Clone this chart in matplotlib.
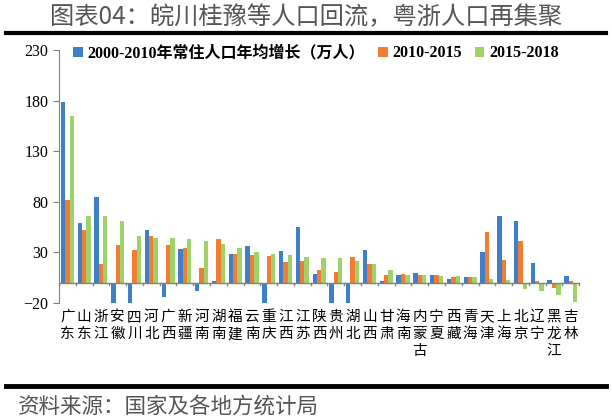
import numpy as np
import matplotlib
matplotlib.use("Agg")
from matplotlib import pyplot as plt

plt.rcParams['font.family'] = ['Liberation Serif', 'Noto Sans CJK SC', 'DejaVu Sans']

provinces = ["广东", "山东", "浙江", "安徽", "四川", "河北", "广西", "新疆", "河南", "湖南",
             "福建", "云南", "重庆", "江西", "江苏", "陕西", "贵州", "湖北", "山西", "甘肃",
             "海南", "内蒙古", "宁夏", "西藏", "青海", "天津", "上海", "北京", "辽宁", "黑龙江", "吉林"]
growth_2000_2010 = [179, 58.5, 84.5, -30, -40, 52, -13.8, 33, -8, 1.6,
                    28, 36, -25, 31, 55, 8.5, -30, -25, 32, 1.6,
                    7.5, 9.5, 7.5, 3.6, 5.6, 30, 65.8, 61, 19.4, 2.6, 6.6]
growth_2010_2015 = [81.6, 52, 18.4, 37, 32, 46, 37, 34, 14.5, 43,
                    28, 27, 26, 20, 21, 12.5, 10, 25, 18.4, 7.5,
                    8.5, 7.5, 7.5, 5.6, 5.6, 50, 22.4, 41.4, 1.6, -5, 1.6]
growth_2015_2018 = [165, 65.8, 65.8, 61, 46, 44, 44, 43, 41, 38,
                    34, 30, 28, 27, 25, 24, 24, 21, 18.4, 12.5,
                    7.5, 7.5, 6.6, 6.6, 5.6, 3.6, 2.6, -6, -8, -12, -19]
series_names = ["2000-2010年常住人口年均增长（万人）", "2010-2015", "2015-2018"]
y_ticks = [-20, 30, 80, 130, 180, 230]

colors = ["#3f7fc6", "#f07d32", "#9fd36a"]

fig = plt.figure(figsize=(6.12, 4.2), dpi=100)
ax = fig.add_axes([0.0964, 0.279, 0.85, 0.602])

x = np.arange(len(provinces))
w = 0.26
for i, (vals, c, name) in enumerate(zip([growth_2000_2010, growth_2010_2015, growth_2015_2018],
                                        colors, series_names)):
    ax.bar(x + (i - 1) * w, vals, width=w, color=c, label=name, zorder=2)

ax.set_ylim(-20, 230)
ax.set_xlim(-0.5, len(provinces) - 0.5)
ax.set_yticks(y_ticks)
ax.tick_params(axis='y', labelsize=11.5, length=4, direction='out', color='#808080')
ax.set_xticks([])

for s in ['top', 'right', 'bottom']:
    ax.spines[s].set_visible(False)
ax.spines['left'].set_color('#808080')

# x axis line at zero with boundary ticks
ax.axhline(0, color='#808080', lw=1, zorder=3)
for b in np.arange(-0.5, len(provinces), 1.0):
    ax.plot([b, b], [0, -2.5], color='#808080', lw=1, zorder=3, clip_on=False)

# vertical category labels
for xi, name in zip(x, provinces):
    ax.text(xi, -27, "\n".join(name), ha='center', va='top', fontsize=10.5,
            family=['Noto Sans CJK SC'], linespacing=1.3)

leg = ax.legend(loc='upper left', bbox_to_anchor=(0.0, 1.075), ncol=3, frameon=False,
                handlelength=0.6, handleheight=0.6, handletextpad=0.3, columnspacing=0.8,
                prop={'family': ['Liberation Serif', 'Noto Sans CJK SC'], 'weight': 'bold', 'size': 11.5})

fig.text(0.5, 0.96, "图表04：皖川桂豫等人口回流，粤浙人口再集聚", ha='center', va='center',
         fontsize=17.5, color='#555555', family=['Noto Sans CJK SC', 'DejaVu Sans'])
fig.add_artist(plt.Line2D([0.01, 0.99], [0.921, 0.921], color='black', lw=3))
fig.add_artist(plt.Line2D([0.01, 0.99], [0.081, 0.081], color='black', lw=3.5))
fig.text(0.03, 0.032, "资料来源：国家及各地方统计局", ha='left', va='center',
         fontsize=15.5, color='#555555', family=['Noto Sans CJK SC'])

fig.savefig("out.png", dpi=100)
